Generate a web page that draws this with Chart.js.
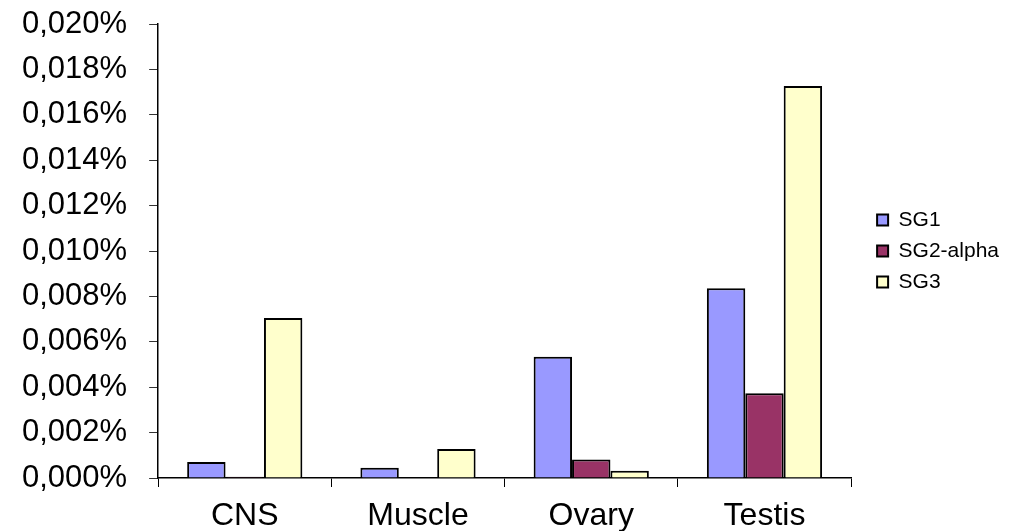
<!DOCTYPE html>
<html lang="en">
<head>
  <meta charset="UTF-8">
  <title>SG expression by tissue</title>
  <script src="https://cdn.jsdelivr.net/npm/chart.js"></script>
  <style>
    html, body { margin: 0; padding: 0; background: #fff; }
    .chart-container { width: 1010px; height: 532px; }
  </style>
</head>
<body>
  <div class="chart-container">
    <canvas id="sgChart"></canvas>
  </div>

  <script>
    // Tissues and expression levels (in %)
    const tissues = ['CNS', 'Muscle', 'Ovary', 'Testis'];
    const sg1 = [0.00070, 0.00045, 0.00534, 0.00836];
    const sg2alpha = [0.00005, 0.0, 0.00082, 0.00373];
    const sg3 = [0.00705, 0.00128, 0.00032, 0.01727];
    const yMin = 0, yMax = 0.020, yStep = 0.002;

    const font = "'Liberation Sans', Arial, sans-serif";

    const ctx = document.getElementById('sgChart').getContext('2d');
    new Chart(ctx, {
      type: 'bar',
      data: {
        labels: tissues,
        datasets: [
          { label: 'SG1', data: sg1, backgroundColor: '#9999FF' },
          { label: 'SG2-alpha', data: sg2alpha, backgroundColor: '#993366' },
          { label: 'SG3', data: sg3, backgroundColor: '#FFFFCC' }
        ].map(d => Object.assign(d, { borderColor: '#000', borderWidth: 2, borderSkipped: 'bottom' }))
      },
      options: {
        responsive: true,
        maintainAspectRatio: false,
        animation: false,
        devicePixelRatio: 1,
        layout: { padding: { top: 0, left: 0, right: 1, bottom: 1 } },
        datasets: { bar: { barPercentage: 1.0, categoryPercentage: 0.665 } },
        plugins: {
          tooltip: { enabled: false },
          legend: {
            position: 'right',
            fullSize: false,
            labels: {
              color: '#000',
              font: { family: font, size: 21 },
              boxWidth: 11,
              boxHeight: 11,
              padding: 10
            }
          }
        },
        scales: {
          x: {
            grid: { display: true, drawOnChartArea: false, drawTicks: true, tickLength: 9, offset: true, color: '#000' },
            border: { color: '#000', width: 1.5 },
            ticks: { color: '#000', font: { family: font, size: 32, lineHeight: 1 }, padding: 13 },
            afterFit: s => { s.height = 53; }
          },
          y: {
            min: yMin,
            max: yMax,
            grid: { display: true, drawOnChartArea: false, drawTicks: true, tickLength: 9, color: '#333' },
            border: { color: '#000', width: 1.5 },
            ticks: {
              stepSize: yStep,
              color: '#000',
              font: { family: font, size: 31, lineHeight: 1 },
              padding: 22,
              callback: v => v.toFixed(3).replace('.', ',') + '%'
            },
            afterFit: s => { s.paddingTop = 24; s.paddingBottom = 0; }
          },
          // empty right-hand axis, only keeps a gap between plot and legend
          gap: {
            position: 'right',
            display: true,
            grid: { display: false, drawTicks: false },
            border: { display: false },
            ticks: { display: false },
            afterFit: s => { s.width = 16; }
          }
        }
      }
    });
  </script>
</body>
</html>
